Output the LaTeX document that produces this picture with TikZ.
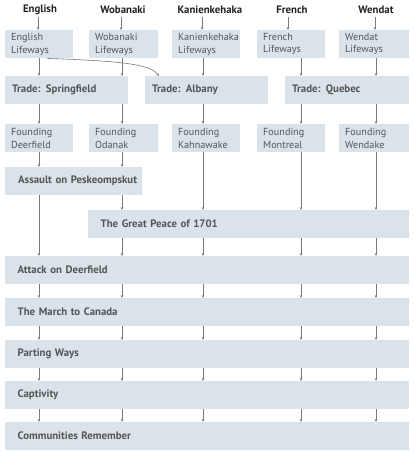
\documentclass[tikz,border=0pt]{standalone}
\usepackage{fontspec}
\setmainfont{PT Sans}
\usetikzlibrary{arrows.meta}
\definecolor{boxc}{HTML}{DAE3EA}
\definecolor{txtc}{HTML}{555555}
\definecolor{hdrc}{HTML}{222222}
\definecolor{arrc}{HTML}{7A7A7A}
\begin{document}
\begin{tikzpicture}[x=1pt,y=-1pt,
  bx/.style={fill=boxc, anchor=north west, inner ysep=0pt, minimum height=28pt, text=txtc, align=left},
  sbx/.style={bx, inner xsep=6pt, font=\fontsize{10.2}{12.5}\selectfont},
  tbx/.style={bx, inner xsep=7pt, font=\bfseries\fontsize{10.8}{12}\selectfont},
  lbx/.style={bx, inner xsep=12.5pt, font=\bfseries\fontsize{10.8}{12}\selectfont},
  hdr/.style={text=hdrc, font=\bfseries\fontsize{10.8}{12}\selectfont, inner sep=0pt},
  arr/.style={draw=arrc, line width=0.6pt, -{Stealth[length=3pt,width=2.6pt]}}
]
\useasboundingbox (0,0) rectangle (413,452);
% column coordinates
\coordinate (cE) at (39,0);
\coordinate (cW) at (122,0);
\coordinate (cK) at (203,0);
\coordinate (cF) at (301,0);
\coordinate (cN) at (376,0);
% headers
\node[hdr] (hE) at (40,10) {English};
\node[hdr] (hW) at (123,10) {Wobanaki};
\node[hdr] (hK) at (210,10) {Kanienkehaka};
\node[hdr] (hF) at (292,10) {French};
\node[hdr] (hN) at (376,10) {Wendat};
% row 1
\node[sbx, text width=56pt] (lE) at (5,30) {English\\Lifeways};
\node[sbx, text width=57pt] (lW) at (89,30) {Wobanaki\\Lifeways};
\node[sbx, text width=56pt] (lK) at (172,30) {Kanienkehaka\\Lifeways};
\node[sbx, text width=56pt] (lF) at (257,30) {French\\Lifeways};
\node[sbx, text width=58pt] (lN) at (339,30) {Wendat\\Lifeways};
% row 2
\node[tbx, text width=109pt] (tS) at (5,76) {Trade: Springfield};
\node[tbx, text width=109pt] (tA) at (145,76) {Trade: Albany};
\node[tbx, text width=110pt] (tQ) at (285,76) {Trade: Quebec};
% row 3
\node[sbx, text width=56pt] (fE) at (5,124) {Founding\\Deerfield};
\node[sbx, text width=57pt] (fW) at (89,124) {Founding\\Odanak};
\node[sbx, text width=56pt] (fK) at (172,124) {Founding\\Kahnawake};
\node[sbx, text width=56pt] (fF) at (257,124) {Founding\\Montreal};
\node[sbx, text width=58pt] (fN) at (339,124) {Founding\\Wendake};
% events
\node[lbx, inner xsep=4pt, text width=129pt] (as) at (5,167) {\hspace*{9pt}Assault on Peskeompskut};
\node[lbx, text width=296pt] (gp) at (88,210) {The Great Peace of 1701};
\node[lbx, text width=379pt] (at) at (5,256) {Attack on Deerfield};
\node[lbx, text width=379pt] (mc) at (5,298) {The March to Canada};
\node[lbx, text width=379pt] (pw) at (5,340) {Parting Ways};
\node[lbx, text width=379pt] (cp) at (5,381) {Captivity};
\node[lbx, text width=379pt] (cr) at (5,422) {Communities Remember};
% header arrows
\coordinate (hEa) at (38,17);
\coordinate (hWa) at (121,17);
\coordinate (hKa) at (202,17);
\coordinate (hFa) at (288,17);
\coordinate (hNa) at (375,17);
\draw[arr] (hEa) -- (lE.north -| hEa);
\draw[arr] (hWa) -- (lW.north -| hWa);
\draw[arr] (hKa) -- (lK.north -| hKa);
\draw[arr] (hFa) -- (lF.north -| hFa);
\draw[arr] (hNa) -- (lN.north -| hNa);
% row1 -> row2
\draw[arr] (lE.south -| cE) -- (tS.north -| cE);
\draw[arr] (lW.south -| cW) -- (tS.north -| cW);
\draw[arr] (lK.south -| cK) -- (tA.north -| cK);
\draw[arr] (lF.south -| cF) -- (tQ.north -| cF);
\draw[arr] (lN.south -| cN) -- (tQ.north -| cN);
\coordinate (cs) at (47,0);
\coordinate (ce) at (159,0);
\draw[arr] (lE.south -| cs) .. controls (120,61) and (150,64) .. (tA.north -| ce);
% row2 -> row3
\draw[arr] (tS.south -| cE) -- (fE.north -| cE);
\draw[arr] (tS.south -| cW) -- (fW.north -| cW);
\draw[arr] (tA.south -| cK) -- (fK.north -| cK);
\draw[arr] (tQ.south -| cF) -- (fF.north -| cF);
\draw[arr] (tQ.south -| cN) -- (fN.north -| cN);
% row3 -> events
\draw[arr] (fE.south -| cE) -- (as.north -| cE);
\draw[arr] (fW.south -| cW) -- (as.north -| cW);
\draw[arr] (as.south -| cW) -- (gp.north -| cW);
\draw[arr] (fK.south -| cK) -- (gp.north -| cK);
\draw[arr] (fF.south -| cF) -- (gp.north -| cF);
\draw[arr] (fN.south -| cN) -- (gp.north -| cN);
\draw[arr] (as.south -| cE) -- (at.north -| cE);
\foreach \c in {cW,cK,cF,cN} { \draw[arr] (gp.south -| \c) -- (at.north -| \c); }
\foreach \a/\b in {at/mc, mc/pw, pw/cp, cp/cr} {
  \foreach \c in {cE,cW,cK,cF,cN} { \draw[arr] (\a.south -| \c) -- (\b.north -| \c); }
}
\end{tikzpicture}
\end{document}
